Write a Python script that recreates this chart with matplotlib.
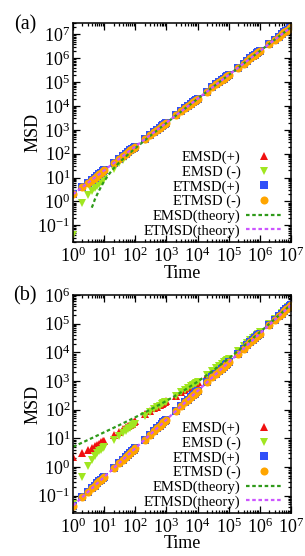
import matplotlib
matplotlib.use("Agg")
import matplotlib.pyplot as plt
from matplotlib.ticker import LogLocator, FixedLocator, NullFormatter

plt.rcParams['font.family'] = ['Liberation Serif', 'DejaVu Serif']
plt.rcParams['mathtext.fontset'] = 'custom'
plt.rcParams['mathtext.rm'] = 'Liberation Serif'
plt.rcParams['mathtext.it'] = 'Liberation Serif:italic'

# ---------------- data ----------------
TIME = [1, 2, 3, 4, 5, 6, 7, 8, 9, 10,
        20, 30, 40, 50, 60, 70, 80, 90, 100,
        200, 300, 400, 500, 600, 700, 800, 900, 1e3,
        2e3, 3e3, 4e3, 5e3, 6e3, 7e3, 8e3, 9e3, 1e4,
        2e4, 3e4, 4e4, 5e4, 6e4, 7e4, 8e4, 9e4, 1e5,
        2e5, 3e5, 4e5, 5e5, 6e5, 7e5, 8e5, 9e5, 1e6,
        2e6, 3e6, 4e6, 5e6, 6e6, 7e6, 8e6, 9e6, 1e7]

# panel (a)
ETMSD_PLUS_A = [2, 4, 6, 8, 10, 12, 14, 16, 18, 20,
                40, 60, 80, 100, 120, 140, 160, 180, 200,
                400, 600, 800, 1000, 1200, 1400, 1600, 1800, 2000,
                4e3, 6e3, 8e3, 1.0e4, 1.2e4, 1.4e4, 1.6e4, 1.8e4, 2.0e4,
                4e4, 6e4, 8e4, 1.0e5, 1.2e5, 1.4e5, 1.6e5, 1.8e5, 2.0e5,
                4e5, 6e5, 8e5, 1.0e6, 1.2e6, 1.4e6, 1.6e6, 1.8e6, 2.0e6,
                4e6, 6e6, 8e6, 1.0e7, 1.2e7, 1.4e7, 1.6e7, 1.8e7, 2.0e7]
ETMSD_MINUS_A = [2, 4, 6, 8, 10, 12, 14, 16, 18, 20,
                 40, 60, 80, 100, 120, 140, 160, 180, 200,
                 400, 600, 800, 1000, 1200, 1400, 1600, 1800, 2000,
                 4e3, 6e3, 8e3, 1.0e4, 1.2e4, 1.4e4, 1.6e4, 1.8e4, 2.0e4,
                 4e4, 6e4, 8e4, 1.0e5, 1.2e5, 1.4e5, 1.6e5, 1.8e5, 2.0e5,
                 4e5, 6e5, 8e5, 1.0e6, 1.2e6, 1.4e6, 1.6e6, 1.8e6, 2.0e6,
                 4e6, 6e6, 8e6, 1.0e7, 1.2e7, 1.4e7, 1.6e7, 1.8e7, 2.0e7]
EMSD_PLUS_A = [2.1, 4.1, 6.1, 8.1, 10, 12, 14, 16, 18, 20,
               40, 60, 80, 100, 120, 140, 160, 180, 200,
               400, 600, 800, 1000, 1200, 1400, 1600, 1800, 2000,
               4e3, 6e3, 8e3, 1.0e4, 1.2e4, 1.4e4, 1.6e4, 1.8e4, 2.0e4,
               4e4, 6e4, 8e4, 1.0e5, 1.2e5, 1.4e5, 1.6e5, 1.8e5, 2.0e5,
               4e5, 6e5, 8e5, 1.0e6, 1.2e6, 1.4e6, 1.6e6, 1.8e6, 2.0e6,
               4e6, 6e6, 8e6, 1.0e7, 1.2e7, 1.4e7, 1.6e7, 1.8e7, 2.0e7]
EMSD_MINUS_A = [0.04, 0.9, 1.8, 2.7, 3.6, 4.6, 5.6, 6.6, 7.7, 8.8,
                24, 40, 57, 75, 93, 111, 130, 149, 168,
                370, 570, 770, 970, 1170, 1370, 1570, 1770, 1970,
                4e3, 6e3, 8e3, 1.0e4, 1.2e4, 1.4e4, 1.6e4, 1.8e4, 2.0e4,
                4e4, 6e4, 8e4, 1.0e5, 1.2e5, 1.4e5, 1.6e5, 1.8e5, 2.0e5,
                4e5, 6e5, 8e5, 1.0e6, 1.2e6, 1.4e6, 1.6e6, 1.8e6, 2.0e6,
                4e6, 6e6, 8e6, 1.0e7, 1.2e7, 1.4e7, 1.6e7, 1.8e7, 2.0e7]
THEORY_EMSD_T_A = [4, 4.5, 5, 6, 7, 8, 10, 15, 20, 30, 50, 100, 300, 1e3, 1e4, 1e7]
THEORY_EMSD_A = [0.55, 0.8, 1.2, 2.0, 3.0, 4.2, 7, 15, 24, 42, 78, 170, 560, 1950, 2e4, 2e7]
THEORY_ETMSD_T_A = [1, 1e7]
THEORY_ETMSD_A = [2, 2e7]

# panel (b)
ETMSD_PLUS_B = [0.045, 0.09, 0.135, 0.18, 0.225, 0.27, 0.315, 0.36, 0.405, 0.45,
                0.9, 1.35, 1.8, 2.25, 2.7, 3.15, 3.6, 4.05, 4.5,
                9, 13.5, 18, 22.5, 27, 31.5, 36, 40.5, 45,
                90, 135, 180, 225, 270, 315, 360, 405, 450,
                900, 1350, 1800, 2250, 2700, 3150, 3600, 4050, 4500,
                9e3, 1.35e4, 1.8e4, 2.25e4, 2.7e4, 3.15e4, 3.6e4, 4.05e4, 4.5e4,
                9e4, 1.35e5, 1.8e5, 2.25e5, 2.7e5, 3.15e5, 3.6e5, 4.05e5, 4.5e5]
ETMSD_MINUS_B = [0.045, 0.09, 0.135, 0.18, 0.225, 0.27, 0.315, 0.36, 0.405, 0.45,
                 0.9, 1.35, 1.8, 2.25, 2.7, 3.15, 3.6, 4.05, 4.5,
                 9, 13.5, 18, 22.5, 27, 31.5, 36, 40.5, 45,
                 90, 135, 180, 225, 270, 315, 360, 405, 450,
                 900, 1350, 1800, 2250, 2700, 3150, 3600, 4050, 4500,
                 9e3, 1.35e4, 1.8e4, 2.25e4, 2.7e4, 3.15e4, 3.6e4, 4.05e4, 4.5e4,
                 9e4, 1.35e5, 1.8e5, 2.25e5, 2.7e5, 3.15e5, 3.6e5, 4.05e5, 4.5e5]
EMSD_PLUS_B = [2.2, 3.2, 4.0, 4.6, 5.3, 5.9, 6.6, 7.2, 7.8, 8.4,
               13, 17, 21, 24, 27, 30, 33, 36, 39,
               70, 92, 111, 127, 142, 157, 170, 184, 197,
               310, 405, 490, 575, 655, 730, 805, 875, 945,
               1600, 2210, 2800, 3360, 3920, 4470, 5010, 5550, 6080,
               1.12e4, 1.62e4, 2.12e4, 2.6e4, 3.09e4, 3.57e4, 4.05e4, 4.52e4, 5.0e4,
               9.7e4, 1.44e5, 1.9e5, 2.36e5, 2.82e5, 3.28e5, 3.74e5, 4.2e5, 4.66e5]
EMSD_MINUS_B = [0.05, 0.45, 1.1, 1.8, 2.4, 3.0, 3.5, 4.0, 4.5, 5.0,
                9, 12.5, 15.5, 18, 21, 23.5, 26, 28.5, 31,
                60, 84, 104, 121, 137, 152, 166, 180, 193,
                305, 400, 486, 570, 650, 727, 800, 872, 942,
                1600, 2210, 2800, 3360, 3920, 4470, 5010, 5550, 6080,
                1.12e4, 1.62e4, 2.12e4, 2.6e4, 3.09e4, 3.57e4, 4.05e4, 4.52e4, 5.0e4,
                9.7e4, 1.44e5, 1.9e5, 2.36e5, 2.82e5, 3.28e5, 3.74e5, 4.2e5, 4.66e5]
THEORY_EMSD_T_B = [1, 3, 10, 30, 100, 300, 1e3, 3e3, 1e4, 3e4, 1e5, 3e5, 1e6, 3e6, 1e7]
THEORY_EMSD_B = [5.05, 8.8, 16.3, 28.7, 54.5, 100, 203, 409, 950, 2216,
                 6081, 16240, 5.0e4, 1.44e5, 4.66e5]
THEORY_ETMSD_T_B = [1, 1e7]
THEORY_ETMSD_B = [0.045, 4.5e5]

X_TICKS = [1, 1e1, 1e2, 1e3, 1e4, 1e5, 1e6, 1e7]
X_TICK_LABELS = ['$10^{0}$', '$10^{1}$', '$10^{2}$', '$10^{3}$', '$10^{4}$', '$10^{5}$', '$10^{6}$', '$10^{7}$']
Y_TICKS_A = [1e-1, 1, 1e1, 1e2, 1e3, 1e4, 1e5, 1e6, 1e7]
Y_TICK_LABELS_A = ['$10^{-1}$', '$10^{0}$', '$10^{1}$', '$10^{2}$', '$10^{3}$', '$10^{4}$', '$10^{5}$', '$10^{6}$', '$10^{7}$']
Y_TICKS_B = [1e-1, 1, 1e1, 1e2, 1e3, 1e4, 1e5, 1e6]
Y_TICK_LABELS_B = ['$10^{-1}$', '$10^{0}$', '$10^{1}$', '$10^{2}$', '$10^{3}$', '$10^{4}$', '$10^{5}$', '$10^{6}$']

LABELS = ['EMSD(+)', 'EMSD (-)', 'ETMSD(+)', 'ETMSD (-)', 'EMSD(theory)', 'ETMSD(theory)']
PANELS = ['(a)', '(b)']

# ---------------- figure ----------------
W, H = 305, 556
fig = plt.figure(figsize=(W / 100, H / 100), dpi=100)

def axbox(l, t, r, b):
    return [l / W, 1 - b / H, (r - l) / W, (b - t) / H]

ax_a = fig.add_axes(axbox(73, 23, 291, 242))
ax_b = fig.add_axes(axbox(73, 295, 291, 513))

RED = '#f01010'
LIME = '#a0e620'
BLUE = '#3050f8'
ORANGE = '#ffa500'
DGREEN = '#2f9a1a'
PURPLE = '#cc55ff'

def draw(ax, emp, emm, etp, etm, tht_e, th_e, tht_t, th_t, ylim, yticks, yticklabels):
    ax.plot(TIME, emp, ls='none', marker='^', ms=5.5, color=RED, mew=0, label=LABELS[0])
    ax.plot(TIME, emm, ls='none', marker='v', ms=5.5, color=LIME, mew=0, label=LABELS[1])
    ax.plot(TIME, etp, ls='none', marker='s', ms=5.5, color=BLUE, mew=0, label=LABELS[2])
    ax.plot(TIME, etm, ls='none', marker='o', ms=5.8, color=ORANGE, mew=0, label=LABELS[3])
    ax.plot(tht_e, th_e, ls=(0, (1.6, 1.2)), lw=1.6, color=DGREEN, label=LABELS[4])
    ax.plot(tht_t, th_t, ls=(0, (1.6, 1.2)), lw=1.6, color=PURPLE, label=LABELS[5])
    ax.set_xscale('log')
    ax.set_yscale('log')
    ax.set_xlim(1, 1e7)
    ax.set_ylim(*ylim)
    ax.xaxis.set_major_locator(FixedLocator(X_TICKS))
    ax.set_xticklabels(X_TICK_LABELS)
    ax.yaxis.set_major_locator(FixedLocator(yticks))
    ax.set_yticklabels(yticklabels)
    for axis in (ax.xaxis, ax.yaxis):
        axis.set_minor_locator(LogLocator(base=10, subs=range(2, 10), numticks=20))
        axis.set_minor_formatter(NullFormatter())
    ax.tick_params(which='both', direction='in', top=True, right=True, width=0.9,
                   labelsize=13, pad=3)
    ax.tick_params(which='major', length=5)
    ax.tick_params(which='minor', length=2.5)
    ax.tick_params(axis='y', pad=2)
    for s in ax.spines.values():
        s.set_linewidth(1.1)
    ax.legend(loc='lower right', bbox_to_anchor=(0.96, 0.02), frameon=False,
              markerfirst=False, fontsize=10.5, handlelength=2.5, handletextpad=0.35,
              labelspacing=0.08, borderpad=0, borderaxespad=0, numpoints=1)

draw(ax_a, EMSD_PLUS_A, EMSD_MINUS_A, ETMSD_PLUS_A, ETMSD_MINUS_A,
     THEORY_EMSD_T_A, THEORY_EMSD_A, THEORY_ETMSD_T_A, THEORY_ETMSD_A, (0.02, 3e7),
     Y_TICKS_A, Y_TICK_LABELS_A)
draw(ax_b, EMSD_PLUS_B, EMSD_MINUS_B, ETMSD_PLUS_B, ETMSD_MINUS_B,
     THEORY_EMSD_T_B, THEORY_EMSD_B, THEORY_ETMSD_T_B, THEORY_ETMSD_B, (0.025, 1e6),
     Y_TICKS_B, Y_TICK_LABELS_B)

for name, ycen, ylab_c, xlab_c in [(PANELS[0], 24.5, 132.5, 273), (PANELS[1], 296, 404, 543)]:
    fig.text(25 / W, 1 - ycen / H, name, fontsize=14.5, ha='center', va='center')
    fig.text(33 / W, 1 - ylab_c / H, 'MSD', fontsize=13, rotation=90, ha='center', va='center')
    fig.text(182 / W, 1 - xlab_c / H, 'Time', fontsize=13, ha='center', va='center')

fig.savefig('out.png', dpi=100)
